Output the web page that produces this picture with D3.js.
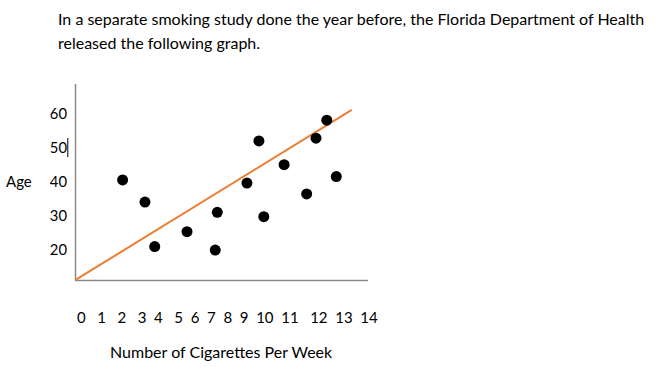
<!DOCTYPE html>
<html>
<head>
<meta charset="utf-8">
<script src="https://cdn.jsdelivr.net/npm/d3@7"></script>
<style>
  html, body { margin: 0; padding: 0; background: #fff; }
  svg { display: block; font-family: Lato, "Open Sans", sans-serif; }
  text { fill: #000; }
</style>
</head>
<body>
<svg id="chart" width="658" height="370"></svg>
<script>
// ---- data ----
const titleLines = [
  "In a separate smoking study done the year before, the Florida Department of Health",
  "released the following graph."
];
const cigarettes = [2.32, 3.42, 3.90, 5.49, 6.98, 6.88, 8.44, 9.03, 9.27, 10.27, 11.38, 11.84, 12.37, 12.84];
const ages       = [40.3, 33.8, 20.7, 25.1, 30.8, 19.7, 39.4, 51.8, 29.5, 44.8, 36.2, 52.6, 57.9, 41.3];
const trendX = [0, 13.6];
const trendY = [10.9, 60.9];
const yTicks = [20, 30, 40, 50, 60];
const xTickLabels = ["0","1","2","3","4","5","6","7","8","9","10","11","12","13","14"];
const xTickGaps   = [3, 3, 3, 2, 3, 2, 2, 2, 2, 2, 2, 3, 2, 2]; // spaces between typed labels
const yTitle = "Age";
const xTitle = "Number of Cigarettes Per Week";

// ---- layout ----
const svg = d3.select("#chart");
const x = d3.scaleLinear().domain([0, 14.4]).range([75.5, 368]);
const y = d3.scaleLinear().domain([10, 70]).range([283, 79]);
const axisColor = "#8a8a8a";

// title
svg.append("g").selectAll("text").data(titleLines).join("text")
  .attr("x", 58).attr("y", (d, i) => 25 + i * 24)
  .attr("font-size", 16)
  .text(d => d);

// axes lines
svg.append("line").attr("x1", 75.5).attr("x2", 75.5).attr("y1", 84).attr("y2", 280.5)
  .attr("stroke", axisColor).attr("stroke-width", 1.5);
svg.append("line").attr("x1", 75).attr("x2", 368).attr("y1", 280.5).attr("y2", 280.5)
  .attr("stroke", axisColor).attr("stroke-width", 1.5);

// y tick labels
svg.append("g").selectAll("text").data(yTicks).join("text")
  .attr("x", 67).attr("y", d => y(d))
  .attr("text-anchor", "end").attr("dominant-baseline", "central")
  .attr("font-size", 14.8)
  .text(d => d);
// text cursor after "50"
svg.append("line").attr("x1", 67.8).attr("x2", 67.8)
  .attr("y1", y(50) - 9).attr("y2", y(50) + 10)
  .attr("stroke", "#000").attr("stroke-width", 1);

// y title
svg.append("text").attr("x", 6).attr("y", y(40))
  .attr("dominant-baseline", "central").attr("font-size", 15)
  .text(yTitle);

// x tick label row (typed text)
const rowText = xTickLabels.map((t, i) => i < xTickGaps.length ? t + " ".repeat(xTickGaps[i]) : t).join("");
svg.append("text").attr("x", 77).attr("y", 323)
  .attr("font-size", 15)
  .style("white-space", "pre")
  .attr("xml:space", "preserve")
  .text(rowText);

// x title
svg.append("text").attr("x", 110).attr("y", 358)
  .attr("font-size", 16)
  .text(xTitle);

// trend line
svg.append("line")
  .attr("x1", x(trendX[0])).attr("y1", y(trendY[0]))
  .attr("x2", x(trendX[1])).attr("y2", y(trendY[1]))
  .attr("stroke", "#ED7D31").attr("stroke-width", 2);

// points
svg.append("g").selectAll("circle").data(cigarettes).join("circle")
  .attr("cx", d => x(d))
  .attr("cy", (d, i) => y(ages[i]))
  .attr("r", 5.5)
  .attr("fill", "#000");
</script>
</body>
</html>
